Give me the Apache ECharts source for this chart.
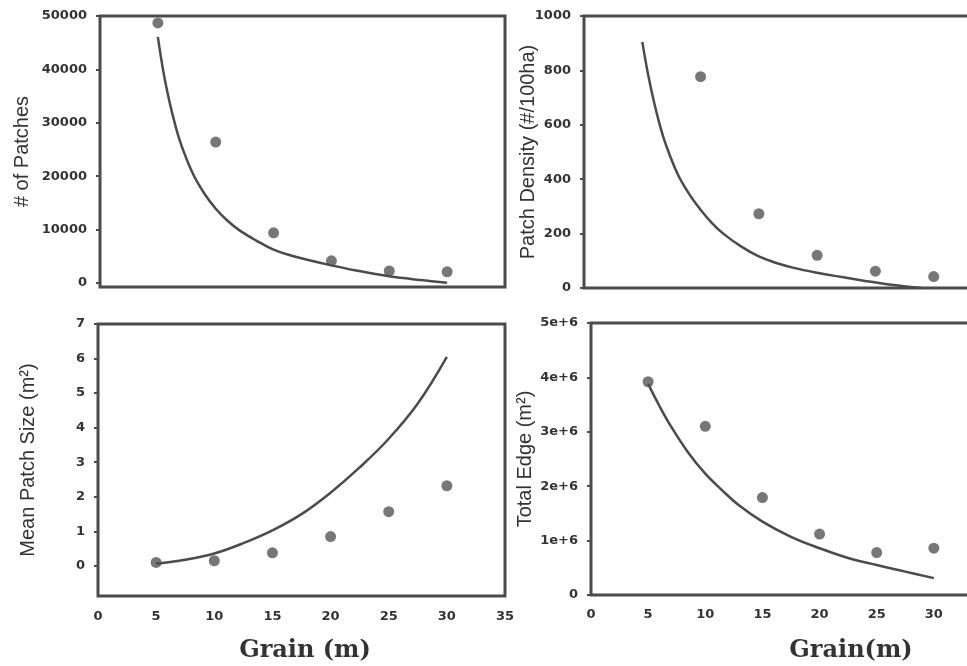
<!DOCTYPE html>
<html>
<head>
<meta charset="utf-8">
<title>Grain effects</title>
<script src="https://cdn.jsdelivr.net/npm/echarts@6/dist/echarts.min.js"></script>
<style>
  html, body { margin: 0; padding: 0; background: #fff; }
  #chart { width: 967px; height: 666px; }
</style>
</head>
<body>
<div id="chart"></div>
<script>
// observed values (dots)
const grain = [5, 10, 15, 20, 25, 30];
const numPatches = [48700, 26400, 9400, 4150, 2250, 2100];
const densityGrain = [10, 15, 20, 25, 30];
const patchDensity = [777, 273, 120, 62, 42];
const meanPatchSize = [0.10, 0.15, 0.38, 0.85, 1.57, 2.32];
const totalEdge = [3920000, 3100000, 1790000, 1120000, 780000, 860000];

// fitted curves
const patchesFitX = [5, 5.5, 6, 6.5, 7, 8, 9, 10, 11, 12, 13.5, 15, 16.5, 18, 20, 22, 25, 28, 30];
const patchesFitY = [46100, 39300, 34000, 29600, 26000, 20600, 16800, 13900, 11700, 9950, 7950, 6250, 5150, 4300, 3300, 2400, 1250, 500, 50];
const densityFitX = [5, 5.5, 6, 6.5, 7, 8, 9, 10, 11, 12, 13.5, 15, 16.5, 18, 20, 22, 24, 26, 28, 29];
const densityFitY = [905, 785, 685, 600, 530, 422, 347, 288, 238, 198, 152, 116, 92, 74, 56, 41, 27, 14, 4, 0];
const sizeFitX = [5, 7.5, 10, 12.5, 15, 17.5, 20, 22.5, 25, 27.5, 30];
const sizeFitY = [0.06, 0.18, 0.36, 0.66, 1.03, 1.5, 2.12, 2.85, 3.68, 4.7, 6.05];
const edgeFitX = [5, 6, 7, 8.5, 10, 11.5, 13, 15, 17.5, 20, 22.5, 25, 27.5, 30];
const edgeFitY = [3880000, 3470000, 3100000, 2620000, 2230000, 1920000, 1640000, 1350000, 1070000, 860000, 680000, 550000, 430000, 310000];

// tick labels
const grainTicks = [0, 5, 10, 15, 20, 25, 30, 35];
const patchesTicks = [0, 10000, 20000, 30000, 40000, 50000];
const densityTicks = [0, 200, 400, 600, 800, 1000];
const sizeTicks = [0, 1, 2, 3, 4, 5, 6, 7];
const edgeTicks = [0, 1000000, 2000000, 3000000, 4000000, 5000000];

const zip = (xs, ys) => xs.map((x, i) => [x, ys[i]]);

const ink = '#4b4b4b';
const labelStyle = {
  fontFamily: 'DejaVu Sans',
  fontWeight: 'bold',
  fontSize: 13,
  color: '#333',
};
const nameStyle = {
  fontFamily: 'Liberation Sans',
  fontSize: 20,
  color: '#333',
};
const plain = (v) => String(v);

function xAxisFor(gridIndex, showLabels) {
  return {
    type: 'value',
    gridIndex,
    min: 0,
    max: 35,
    interval: 5,
    axisLine: { show: false },
    axisTick: { show: false },
    splitLine: { show: false },
    axisLabel: { show: showLabels, margin: 14, customValues: grainTicks, formatter: plain, ...labelStyle },
  };
}

function yAxisFor(gridIndex, name, min, max, ticks, nameGap, fmt) {
  return {
    type: 'value',
    gridIndex,
    min,
    max,
    name,
    nameLocation: 'middle',
    nameGap,
    nameMoveOverlap: false,
    nameTextStyle: nameStyle,
    axisLine: { show: false },
    axisTick: { show: true, length: 4, customValues: ticks, lineStyle: { color: ink, width: 2 } },
    splitLine: { show: false },
    axisLabel: { margin: 13, customValues: ticks, formatter: fmt || plain, ...labelStyle },
  };
}

const dotStyle = { color: '#555' };
const fitLine = { color: ink, width: 2.5 };
const gridBox = { show: true, borderColor: ink, borderWidth: 3, outerBoundsMode: 'none', containLabel: false };

function fit(i, xs, ys) {
  return {
    type: 'line', xAxisIndex: i, yAxisIndex: i, data: zip(xs, ys),
    smooth: 0.4, showSymbol: false, lineStyle: fitLine,
  };
}
function dots(i, xs, ys) {
  return { type: 'scatter', xAxisIndex: i, yAxisIndex: i, data: zip(xs, ys), symbolSize: 11, itemStyle: dotStyle };
}

const grainTitle = { fontFamily: 'DejaVu Serif', fontWeight: 'bold', fontSize: 24, color: '#333' };

const option = {
  backgroundColor: '#fff',
  animation: false,
  title: [
    { text: 'Grain (m)', left: 300, top: 634, textAlign: 'center', textStyle: grainTitle },
    { text: 'Grain(m)', left: 846, top: 634, textAlign: 'center', textStyle: grainTitle },
  ],
  grid: [
    { left: 100, top: 16, width: 405, height: 271, ...gridBox },
    { left: 584, top: 16, width: 408, height: 272, ...gridBox },
    { left: 98, top: 324, width: 407, height: 272, ...gridBox },
    { left: 591, top: 323, width: 400, height: 272, ...gridBox },
  ],
  xAxis: [
    xAxisFor(0, false),
    xAxisFor(1, false),
    xAxisFor(2, true),
    { ...xAxisFor(3, true), axisLabel: { margin: 13, customValues: grainTicks, formatter: plain, ...labelStyle } },
  ],
  yAxis: [
    yAxisFor(0, '# of Patches', -750, 50000, patchesTicks, 68),
    yAxisFor(1, 'Patch Density (#/100ha)', 0, 1000, densityTicks, 46),
    yAxisFor(2, 'Mean Patch Size (m²)', -0.87, 7, sizeTicks, 60),
    yAxisFor(3, 'Total Edge (m²)', 0, 5000000, edgeTicks, 56,
      (v) => (v === 0 ? '0' : v / 1000000 + 'e+6')),
  ],
  series: [
    fit(0, patchesFitX, patchesFitY),
    dots(0, grain, numPatches),
    fit(1, densityFitX, densityFitY),
    dots(1, densityGrain, patchDensity),
    fit(2, sizeFitX, sizeFitY),
    dots(2, grain, meanPatchSize),
    fit(3, edgeFitX, edgeFitY),
    dots(3, grain, totalEdge),
  ],
};

const chart = echarts.init(document.getElementById('chart'));
chart.setOption(option);
window.addEventListener('resize', () => chart.resize());
</script>
</body>
</html>
